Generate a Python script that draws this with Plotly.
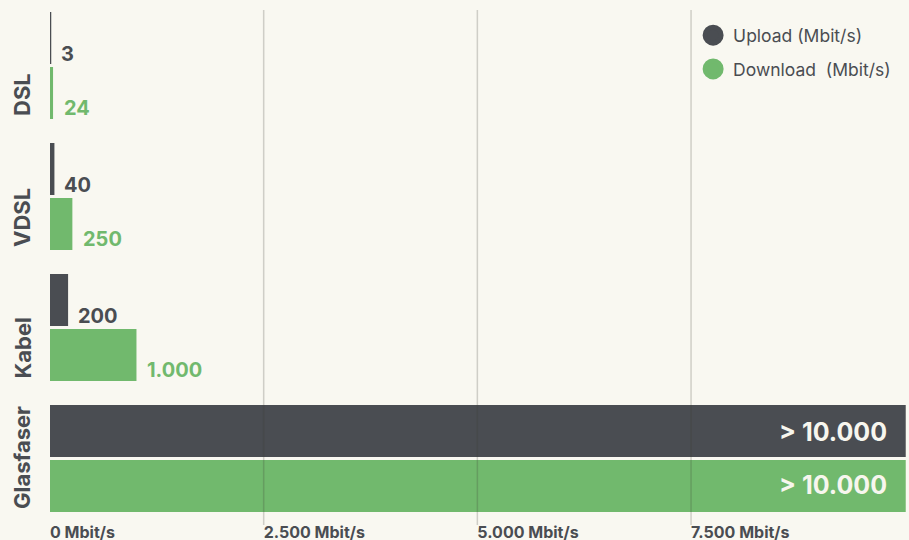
import plotly.graph_objects as go

categories = ["DSL", "VDSL", "Kabel", "Glasfaser"]
upload = [3, 40, 200, 10000]
download = [24, 250, 1000, 10000]
upload_labels = ["3", "40", "200", "> 10.000"]
download_labels = ["24", "250", "1.000", "> 10.000"]
tick_vals = [0, 2500, 5000, 7500]
tick_labels = ["0 Mbit/s", "2.500 Mbit/s", "5.000 Mbit/s", "7.500 Mbit/s"]

DARK = "#4a4d52"
GREEN = "#71b96d"
BG = "#f9f8f1"
FONT = "Inter"

fig = go.Figure()
fig.add_trace(go.Bar(y=categories, x=upload, orientation="h", name="Upload (Mbit/s)",
                     marker=dict(color=DARK, line=dict(color=DARK, width=2)),
                     showlegend=False, hoverinfo="skip"))
fig.add_trace(go.Bar(y=categories, x=download, orientation="h", name="Download  (Mbit/s)",
                     marker=dict(color=GREEN, line=dict(color=GREEN, width=2)),
                     showlegend=False, hoverinfo="skip"))
# legend entries with round markers
fig.add_trace(go.Scatter(x=[None], y=[None], mode="markers", name="Upload (Mbit/s)",
                         marker=dict(color=DARK, size=16, line=dict(color=DARK, width=5)),
                         legendgroup="u"))
fig.add_trace(go.Scatter(x=[None], y=[None], mode="markers", name="Download  (Mbit/s)",
                         marker=dict(color=GREEN, size=16, line=dict(color=GREEN, width=5)),
                         legendgroup="d"))

annotations = []
for cat, val, lab in zip(categories, upload, upload_labels):
    inside = val >= 10000
    annotations.append(dict(
        x=val, y=cat, xref="x", yref="y", text=lab, showarrow=False,
        xanchor="right" if inside else "left", yanchor="middle",
        xshift=-16 if inside else 9, yshift=27 if inside else 12,
        font=dict(family=FONT, size=25 if inside else 20, weight="bold",
                  color="#f7f6ee" if inside else DARK)))
for cat, val, lab in zip(categories, download, download_labels):
    inside = val >= 10000
    annotations.append(dict(
        x=val, y=cat, xref="x", yref="y", text=lab, showarrow=False,
        xanchor="right" if inside else "left", yanchor="middle",
        xshift=-16 if inside else 10, yshift=-26 if inside else -42,
        font=dict(family=FONT, size=25 if inside else 20, weight="bold",
                  color="#f7f6ee" if inside else GREEN)))
# category labels, rotated and aligned to the bottom of each group
for cat in categories:
    annotations.append(dict(
        x=0, y=cat, xref="paper", yref="y", text=cat, showarrow=False,
        textangle=-90, xanchor="center", yanchor="bottom", xshift=-28, yshift=-53,
        font=dict(family=FONT, size=22, weight="bold", color=DARK)))

shapes = []
for v in tick_vals[1:]:
    shapes.append(dict(type="line", xref="x", yref="paper", x0=v, x1=v, y0=-0.002, y1=0.981,
                       line=dict(color="rgba(60,60,50,0.22)", width=1.5), layer="above"))

fig.update_layout(
    width=909, height=540,
    margin=dict(l=50, r=0, t=0, b=16),
    paper_bgcolor=BG, plot_bgcolor=BG,
    barmode="group", bargap=0.16, bargroupgap=0.09,
    font=dict(family=FONT, color=DARK),
    annotations=annotations, shapes=shapes,
    legend=dict(x=0.985, y=0.967, xanchor="right", yanchor="top",
                bgcolor="rgba(0,0,0,0)", font=dict(family=FONT, size=17.5, color=DARK),
                tracegroupgap=8, traceorder="grouped", itemsizing="trace"),
    xaxis=dict(range=[0, 10050], showgrid=False, zeroline=False, showline=False,
               tickvals=tick_vals, ticktext=tick_labels, ticklabelposition="outside right",
               ticklabelstandoff=-3,
               tickfont=dict(family=FONT, size=16, weight="bold", color=DARK),
               ticks="", fixedrange=True, automargin=False),
    yaxis=dict(categoryorder="array", categoryarray=categories, autorange="reversed",
               showgrid=False, zeroline=False, showline=False, showticklabels=False,
               ticks="", automargin=False),
)

fig.write_html("out.html", config={"displayModeBar": False},
               post_script="document.body.style.margin='0';document.body.style.background='%s';" % BG)
